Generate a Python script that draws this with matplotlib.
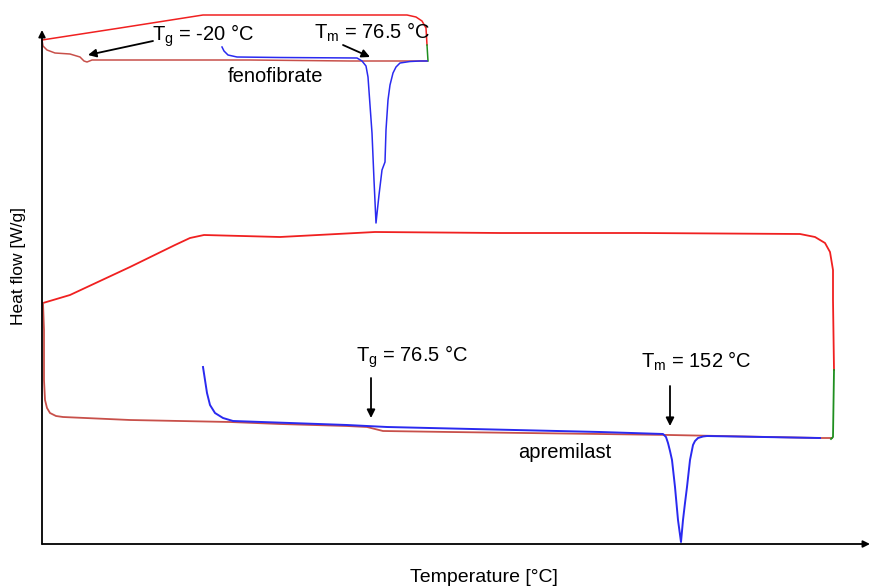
import matplotlib
matplotlib.use("Agg")
import matplotlib.pyplot as plt

plt.rcParams['font.family'] = ['Liberation Sans', 'DejaVu Sans']
plt.rcParams['mathtext.default'] = 'regular'

# arbitrary units (x ~ temperature, y ~ heat flow)
feno_heat_x = [0, 78, 161, 258, 365, 374, 380, 384, 385]
feno_heat_y = [504, 516, 529, 529, 529, 527, 523, 516, 499]
feno_iso_x = [385, 386]
feno_iso_y = [499, 483]
feno_cool_x = [0, 1, 5, 13, 28, 38, 42, 45, 50, 108, 208, 308, 385]
feno_cool_y = [504, 498, 494, 491, 490, 487, 483, 482, 484, 484, 484, 483, 483]
feno_melt_x = [180, 182, 186, 195, 238, 315, 320, 324, 326, 328, 330, 332, 334,
               337, 340, 343, 344, 346, 348, 351, 354, 358, 368, 378, 385]
feno_melt_y = [497, 493, 489, 487, 486.5, 486, 483, 478, 467, 439, 411, 364, 321,
               349, 374, 382, 414, 444, 459, 471, 477, 481, 482.5, 483, 483]

apre_heat_x = [1, 28, 88, 133, 148, 162, 238, 333, 458, 598, 758, 773, 783, 788, 791, 791, 792]
apre_heat_y = [241, 249, 277, 299, 306, 309, 307, 312, 311, 311, 310, 307, 301, 292, 274, 244, 174]
apre_iso_x = [792, 791, 789]
apre_iso_y = [174, 107, 105]
apre_cool_x = [1, 2, 2, 3, 5, 8, 14, 21, 88, 188, 238, 305, 325, 341, 408, 558, 628, 778, 790]
apre_cool_y = [241, 214, 164, 144, 136, 131, 128, 127, 124, 122, 120, 118, 117, 113, 112, 110, 109, 106, 106]
apre_melt_x = [161, 163, 165, 168, 173, 181, 191, 305, 345, 558, 621, 624, 626, 628, 630,
               633, 636, 639, 641, 643, 645, 648, 651, 653, 656, 661, 665, 778]
apre_melt_y = [177, 164, 151, 139, 131, 126, 123, 119, 117, 112, 110, 107, 101, 93, 84,
               57, 24, 2, 24, 41, 57, 84, 99, 103, 106, 107.5, 108, 106]

RED = '#f02020'
RED_DARK = '#c8504a'
BLUE = '#2a2af0'
GREEN = '#1f8f1f'

fig = plt.figure(figsize=(8.71, 5.88), dpi=100)
ax = fig.add_axes([42 / 871, 44 / 588, 828 / 871, 514 / 588])
ax.set_xlim(0, 828)
ax.set_ylim(0, 514)
ax.axis('off')

lw = 1.1
ax.plot(feno_heat_x, feno_heat_y, color=RED, lw=lw, clip_on=False)
ax.plot(feno_cool_x, feno_cool_y, color=RED_DARK, lw=lw, clip_on=False)
ax.plot(feno_iso_x, feno_iso_y, color=GREEN, lw=lw, clip_on=False)
ax.plot(feno_melt_x, feno_melt_y, color=BLUE, lw=lw, clip_on=False)

ax.plot(apre_heat_x, apre_heat_y, color=RED, lw=lw + 0.2, clip_on=False)
ax.plot(apre_cool_x, apre_cool_y, color=RED_DARK, lw=lw + 0.2, clip_on=False)
ax.plot(apre_iso_x, apre_iso_y, color=GREEN, lw=lw + 0.2, clip_on=False)
ax.plot(apre_melt_x, apre_melt_y, color=BLUE, lw=lw + 0.3, clip_on=False)

# axis arrows
arr = dict(arrowstyle='-|>', color='black', lw=1.3, mutation_scale=10, shrinkA=0, shrinkB=0)
ax.annotate('', xy=(0, 1.0), xytext=(0, 0), xycoords='axes fraction', arrowprops=arr)
ax.annotate('', xy=(1.0, 0), xytext=(0, 0), xycoords='axes fraction', arrowprops=arr)

# annotations
pointer = dict(arrowstyle='-|>', color='black', lw=1.3, mutation_scale=12, shrinkA=0, shrinkB=0)
fs = 14.5
ax.text(161, 508, 'T$_g$ = -20 °C', fontsize=fs, ha='center', va='center')
ax.annotate('', xy=(46, 489), xytext=(111, 503), arrowprops=pointer, annotation_clip=False)
ax.text(330, 512, 'T$_m$ = 76.5 °C', fontsize=fs, ha='center', va='center')
ax.annotate('', xy=(328, 487), xytext=(301, 499), arrowprops=pointer, annotation_clip=False)
ax.text(233, 468, 'fenofibrate', fontsize=fs, ha='center', va='center')

ax.text(370, 187, 'T$_g$ = 76.5 °C', fontsize=fs, ha='center', va='center')
ax.annotate('', xy=(329, 126), xytext=(329, 166), arrowprops=pointer)
ax.text(654, 183, 'T$_m$ = 152 °C', fontsize=fs, ha='center', va='center')
ax.annotate('', xy=(628, 118), xytext=(628, 158), arrowprops=pointer)
ax.text(523, 92, 'apremilast', fontsize=fs, ha='center', va='center')

fig.text(19 / 871, 1 - 266 / 588, 'Heat flow [W/g]', rotation=90, fontsize=12.5,
         ha='center', va='center')
fig.text(484 / 871, 1 - 577 / 588, 'Temperature [°C]', fontsize=14,
         ha='center', va='center')

fig.savefig('out.png', dpi=100)
